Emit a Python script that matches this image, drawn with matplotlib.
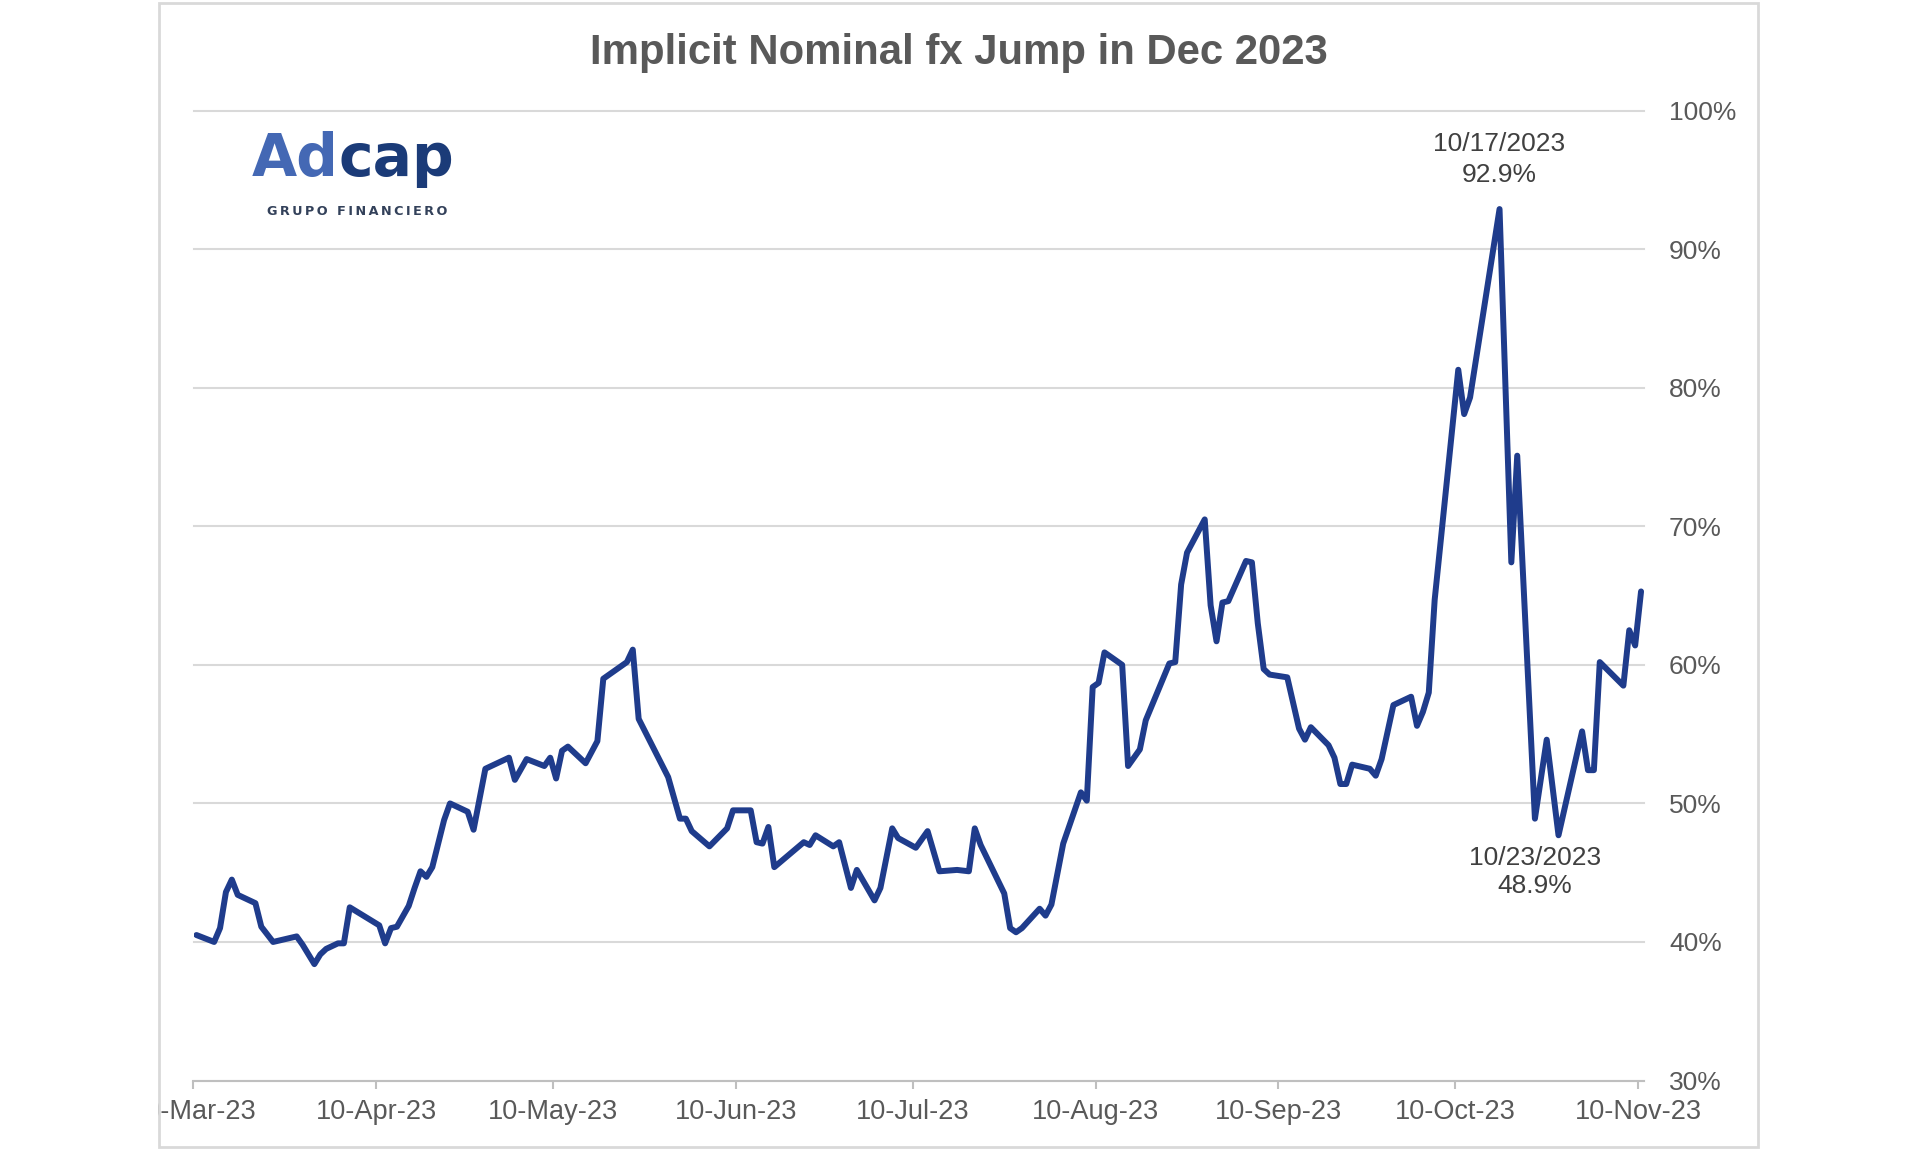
import matplotlib
matplotlib.use("Agg")
import matplotlib.pyplot as plt
import matplotlib.dates as mdates
from matplotlib.patches import Rectangle
from matplotlib.ticker import FuncFormatter
import pandas as pd

plt.rcParams['font.family'] = ['Liberation Sans', 'DejaVu Sans']

# implicit nominal fx jump (%)
dates = [
    "2023-03-10", "2023-03-13", "2023-03-14", "2023-03-15", "2023-03-16", "2023-03-17",
    "2023-03-20", "2023-03-21", "2023-03-23", "2023-03-27", "2023-03-28", "2023-03-30",
    "2023-03-31", "2023-04-01", "2023-04-03", "2023-04-04", "2023-04-05", "2023-04-10",
    "2023-04-11", "2023-04-12", "2023-04-13", "2023-04-15", "2023-04-16", "2023-04-17",
    "2023-04-18", "2023-04-19", "2023-04-21", "2023-04-22", "2023-04-25", "2023-04-26",
    "2023-04-28", "2023-05-02", "2023-05-03", "2023-05-05", "2023-05-08", "2023-05-09",
    "2023-05-10", "2023-05-11", "2023-05-12", "2023-05-15", "2023-05-17", "2023-05-18",
    "2023-05-22", "2023-05-23", "2023-05-24", "2023-05-29", "2023-05-31", "2023-06-01",
    "2023-06-02", "2023-06-05", "2023-06-08", "2023-06-09", "2023-06-12", "2023-06-13",
    "2023-06-14", "2023-06-15", "2023-06-16", "2023-06-21", "2023-06-22", "2023-06-23",
    "2023-06-26", "2023-06-27", "2023-06-29", "2023-06-30", "2023-07-03", "2023-07-04",
    "2023-07-06", "2023-07-07", "2023-07-10", "2023-07-12", "2023-07-14", "2023-07-17",
    "2023-07-19", "2023-07-20", "2023-07-21", "2023-07-25", "2023-07-26", "2023-07-27",
    "2023-07-28", "2023-07-31", "2023-08-01", "2023-08-02", "2023-08-04", "2023-08-07",
    "2023-08-08", "2023-08-09", "2023-08-10", "2023-08-11", "2023-08-14", "2023-08-15",
    "2023-08-17", "2023-08-18", "2023-08-22", "2023-08-23", "2023-08-24", "2023-08-25",
    "2023-08-28", "2023-08-29", "2023-08-30", "2023-08-31", "2023-09-01", "2023-09-04",
    "2023-09-05", "2023-09-06", "2023-09-07", "2023-09-08", "2023-09-11", "2023-09-13",
    "2023-09-14", "2023-09-15", "2023-09-18", "2023-09-19", "2023-09-20", "2023-09-21",
    "2023-09-22", "2023-09-25", "2023-09-26", "2023-09-27", "2023-09-29", "2023-10-02",
    "2023-10-03", "2023-10-04", "2023-10-05", "2023-10-06", "2023-10-10", "2023-10-11",
    "2023-10-12", "2023-10-17", "2023-10-19", "2023-10-20", "2023-10-23", "2023-10-25",
    "2023-10-27", "2023-10-31", "2023-11-01", "2023-11-02", "2023-11-03", "2023-11-07",
    "2023-11-08", "2023-11-09", "2023-11-10",
]
values = [
    40.5, 40.0, 41.0, 43.6, 44.5, 43.4,
    42.8, 41.1, 40.0, 40.4, 39.8, 38.4,
    39.1, 39.5, 39.9, 39.9, 42.5, 41.2,
    39.9, 41.0, 41.1, 42.6, 43.9, 45.1,
    44.7, 45.4, 48.8, 50.0, 49.4, 48.1,
    52.5, 53.3, 51.7, 53.2, 52.7, 53.3,
    51.8, 53.8, 54.1, 52.9, 54.5, 59.0,
    60.2, 61.1, 56.1, 51.9, 48.9, 48.9,
    48.0, 46.9, 48.2, 49.5, 49.5, 47.2,
    47.1, 48.3, 45.4, 47.2, 47.0, 47.7,
    46.9, 47.2, 43.9, 45.2, 43.0, 43.9,
    48.2, 47.5, 46.8, 48.0, 45.1, 45.2,
    45.1, 48.2, 47.0, 43.5, 41.0, 40.7,
    41.0, 42.4, 41.9, 42.7, 47.1, 50.8,
    50.2, 58.4, 58.7, 60.9, 60.0, 52.7,
    53.9, 56.0, 60.1, 60.2, 65.8, 68.1,
    70.5, 64.3, 61.7, 64.5, 64.6, 67.5,
    67.4, 63.0, 59.7, 59.3, 59.1, 55.4,
    54.6, 55.5, 54.2, 53.3, 51.4, 51.4,
    52.8, 52.5, 52.0, 53.2, 57.1, 57.7,
    55.6, 56.6, 58.0, 64.7, 81.3, 78.1,
    79.3, 92.9, 67.4, 75.1, 48.9, 54.6,
    47.7, 55.2, 52.4, 52.4, 60.2, 58.5,
    62.5, 61.4, 65.3,
]

y_ticks = [30, 40, 50, 60, 70, 80, 90, 100]
x_ticks = ["2023-03-10", "2023-04-10", "2023-05-10", "2023-06-10", "2023-07-10",
           "2023-08-10", "2023-09-10", "2023-10-10", "2023-11-10"]
x_range = ["2023-03-10", "2023-11-11"]

peak_date, peak_value = "2023-10-17", 92.9
low_date, low_value = "2023-10-23", 48.9

title = "Implicit Nominal fx Jump in Dec 2023"

W, H = 1920, 1149
fig = plt.figure(figsize=(W / 100, H / 100), dpi=100)
ax = fig.add_axes([193.5 / W, 1 - 1080.5 / H, (1644 - 193.5) / W, (1080.5 - 110.7) / H])

# excel date axis puts each point in the middle of its day
half_day = pd.Timedelta(hours=12)
x = pd.to_datetime(dates) + half_day
ax.plot(x, values, color='#1f3c8c', lw=4.3, solid_joinstyle='round',
        solid_capstyle='round', zorder=3)

ax.set_xlim(pd.Timestamp(x_range[0]), pd.Timestamp(x_range[1]))
ax.set_ylim(30, 100)

# y axis on the right, no tick marks
ax.yaxis.tick_right()
ax.set_yticks(y_ticks)
ax.yaxis.set_major_formatter(FuncFormatter(lambda v, p: f"{v:.0f}%"))
ax.tick_params(axis='y', length=0, pad=18, labelsize=19, labelcolor='#595959')
ax.grid(axis='y', color='#d9d9d9', lw=1.5, zorder=0)
for gl in ax.get_ygridlines():
    gl.set_clip_on(False)

ax.set_xticks(pd.to_datetime(x_ticks))
ax.xaxis.set_major_formatter(mdates.DateFormatter('%d-%b-%y'))
ax.tick_params(axis='x', direction='out', length=5.5, width=1.5, color='#bfbfbf',
               pad=7.5, labelsize=19.5, labelcolor='#595959')

for side in ['top', 'left', 'right']:
    ax.spines[side].set_visible(False)
ax.spines['bottom'].set_color('#bfbfbf')
ax.spines['bottom'].set_linewidth(1.5)

# data labels for the extremes
pk = pd.Timestamp(peak_date)
ax.text(pk + half_day, 97.1, f"{pk:%m/%d/%Y}", ha='center', va='baseline',
        fontsize=19, color='#404040')
ax.text(pk + half_day, 94.85, f"{peak_value:.1f}%", ha='center', va='baseline',
        fontsize=19, color='#404040')
lo = pd.Timestamp(low_date)
ax.text(lo + half_day, 45.55, f"{lo:%m/%d/%Y}", ha='center', va='baseline',
        fontsize=19, color='#404040')
ax.text(lo + half_day, 43.5, f"{low_value:.1f}%", ha='center', va='baseline',
        fontsize=19, color='#404040')

# chart title
fig.text(958.5 / W, 1 - 64 / H, title, ha='center', va='baseline',
         fontsize=30.2, fontweight='bold', color='#595959')

# logo
t_ad = fig.text(252 / W, 1 - 176 / H, "Ad", ha='left', va='baseline',
                fontsize=42, fontweight='bold', color='#4468b4', family='DejaVu Sans')
ax.annotate("cap", xy=(1, 0), xycoords=t_ad, ha='left', va='bottom',
            fontsize=42, fontweight='bold', color='#1b3b78', family='DejaVu Sans',
            annotation_clip=False)
fig.text(357 / W, 1 - 215 / H, "\u2009".join("GRUPO FINANCIERO"), ha='center',
         va='baseline', fontsize=9.2, fontweight='bold', color='#33415a',
         family='DejaVu Sans')

# chart area frame, anything left of it is cut off
fig.add_artist(Rectangle((0, 0), 158 / W, 1, transform=fig.transFigure,
                         facecolor='white', edgecolor='none', zorder=10))
fig.add_artist(Rectangle((159 / W, 2 / H), (1757.5 - 159) / W, (1146.5 - 2) / H,
                         transform=fig.transFigure, facecolor='none',
                         edgecolor='#d9d9d9', lw=2, zorder=11))

fig.savefig('out.png', dpi=100)
